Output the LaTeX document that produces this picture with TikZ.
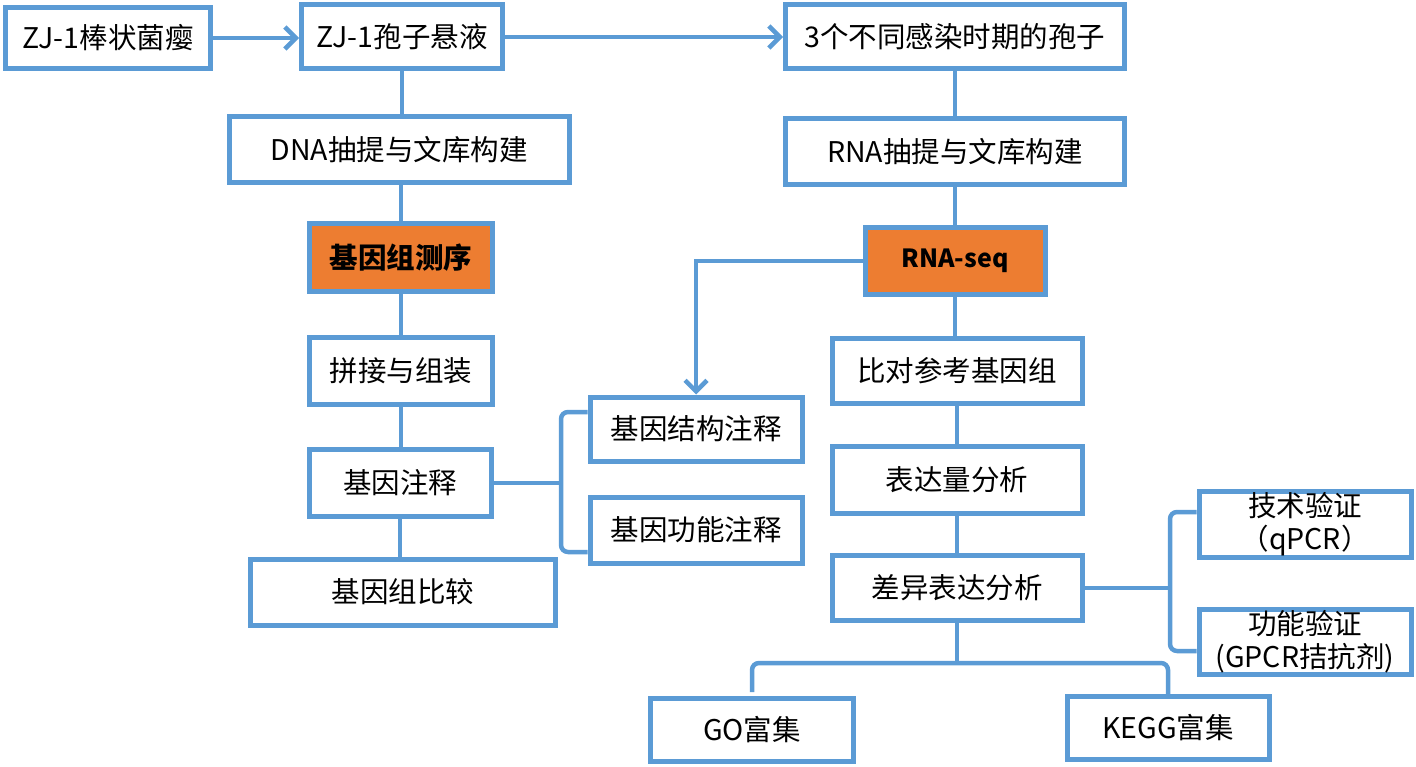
\documentclass[tikz,border=0pt]{standalone}
\usepackage{fontspec}
\setmainfont{Noto Sans CJK SC}
\usetikzlibrary{arrows.meta,positioning}
\definecolor{cblue}{HTML}{5B9BD5}
\definecolor{corange}{HTML}{ED7D31}

\begin{document}
\begin{tikzpicture}[x=1pt, y=-1pt,
    box/.style={draw=cblue, line width=5pt, fill=white, inner sep=0pt,
                align=center, font=\fontsize{28.5}{33}\selectfont},
    hot/.style={box, fill=corange, font=\fontsize{28.5}{33}\selectfont\bfseries},
    ln/.style={cblue, line width=4.5pt},
    pt/.style={ln, -{Straight Barb[length=11pt, width=22pt]}}]
  \useasboundingbox (0,0) rectangle (1416,767);

  % top row
  \node[box, minimum width=205pt, minimum height=61pt] (zj) at (108,38) {ZJ-1棒状菌瘿};
  \node[box, minimum width=201pt, minimum height=64pt] (spore) at (402,37) {ZJ-1孢子悬液};
  \node[box, minimum width=339pt, minimum height=64pt] (three) at (955,37) {3个不同感染时期的孢子};

  % genome branch
  \node[box, minimum width=340pt, minimum height=66pt] (dna) at (399,150) {DNA抽提与文库构建};
  \node[hot, minimum width=183pt, minimum height=68pt] (gseq) at (401,258) {基因组测序};
  \node[box, minimum width=183pt, minimum height=67pt] (asm) at (401,371) {拼接与组装};
  \node[box, minimum width=182pt, minimum height=67pt] (gann) at (400,483) {基因注释};
  \node[box, minimum width=305pt, minimum height=66pt] (gcomp) at (403,592) {基因组比较};
  \node[box, minimum width=212pt, minimum height=64pt] (struct) at (696,429) {基因结构注释};
  \node[box, minimum width=212pt, minimum height=66pt] (func) at (696,530) {基因功能注释};

  % transcriptome branch
  \node[box, minimum width=339pt, minimum height=66pt] (rna) at (955,152) {RNA抽提与文库构建};
  \node[hot, minimum width=180pt, minimum height=67pt,
        font=\fontsize{25}{29}\selectfont\bfseries] (rseq) at (955,261) {RNA-seq};
  \node[box, minimum width=250pt, minimum height=65pt] (align) at (957,371) {比对参考基因组};
  \node[box, minimum width=250pt, minimum height=67pt] (expr) at (957,480) {表达量分析};
  \node[box, minimum width=250pt, minimum height=65pt] (deg) at (957,588) {差异表达分析};
  \node[box, minimum width=212pt, minimum height=66pt] (tech) at (1305,524) {技术验证\\（qPCR）};
  \node[box, minimum width=212pt, minimum height=65pt] (fval) at (1305,642) {功能验证\\(GPCR拮抗剂)};
  \node[box, minimum width=203pt, minimum height=63pt] (go) at (752,730) {GO富集};
  \node[box, minimum width=202pt, minimum height=63pt] (kegg) at (1168,728) {KEGG富集};

  \coordinate (lbt) at (561,412);
  \coordinate (lbb) at (561,552);
  \coordinate (rbt) at (1170,512);
  \coordinate (rbb) at (1170,651);
  \coordinate (bj) at (957,663);

  % connectors
  \draw[pt] (zj.east) -- (zj.east -| spore.west);
  \draw[pt] (spore.east) -- (spore.east -| three.west);
  \draw[ln] (spore.south) -- (spore.south |- dna.north);
  \draw[ln] (gseq.north |- dna.south) -- (gseq.north);
  \draw[ln] (gseq.south) -- (gseq.south |- asm.north);
  \draw[ln] (asm.south) -- (asm.south |- gann.north);
  \draw[ln] (gann.south) -- (gann.south |- gcomp.north);
  \draw[ln] (gann.east) -- (gann.east -| lbt);
  \draw[ln, rounded corners=7pt] (struct.west |- lbt) -- (lbt) -- (lbb) -- (func.west |- lbb);

  \draw[ln] (three.south) -- (three.south |- rna.north);
  \draw[ln] (rna.south) -- (rna.south |- rseq.north);
  \draw[ln] (rseq.south) -- (rseq.south |- align.north);
  \draw[ln] (align.south) -- (align.south |- expr.north);
  \draw[ln] (expr.south) -- (expr.south |- deg.north);
  \draw[pt] (rseq.west) -| (struct.north);
  \draw[ln] (deg.east) -- (deg.east -| rbt);
  \draw[ln, rounded corners=7pt] (tech.west |- rbt) -- (rbt) -- (rbb) -- (fval.west |- rbb);
  \draw[ln] (deg.south) -- (deg.south |- bj);
  \draw[ln, rounded corners=7pt] ([yshift=4pt]go.north) |- (bj) -| (kegg.north);
\end{tikzpicture}
\end{document}
